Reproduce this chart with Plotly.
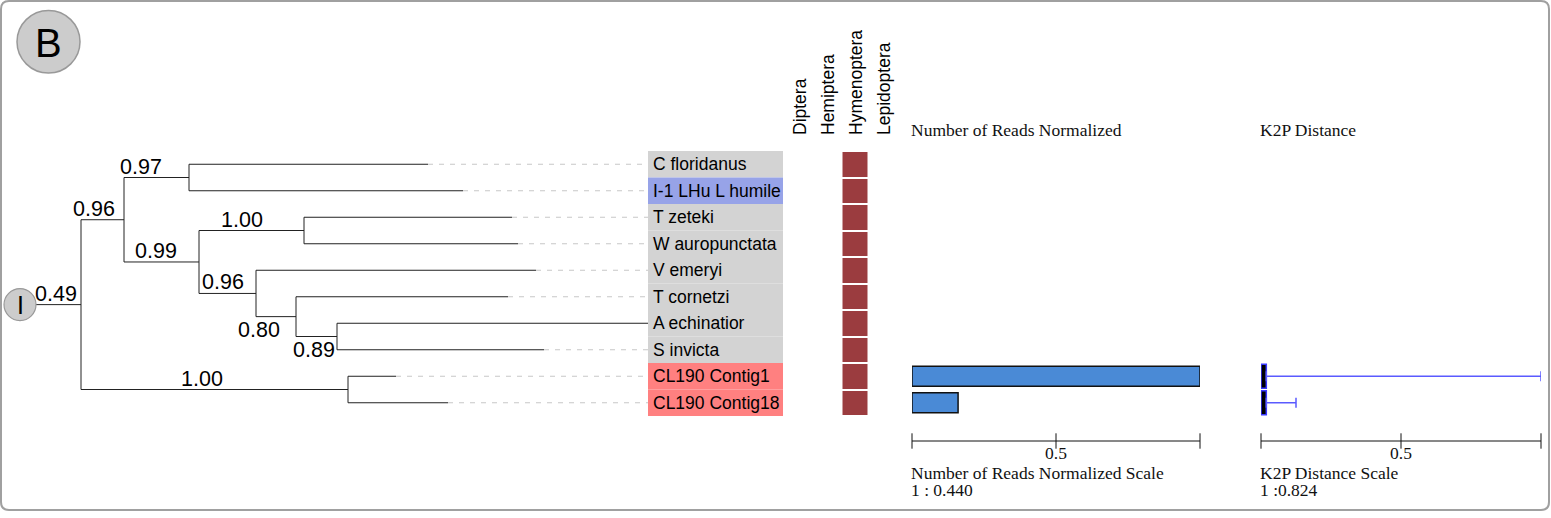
import plotly.graph_objects as go

W, H = 1551, 518

# ---------------- data ----------------
leaf_names = ["C floridanus", "I-1 LHu L humile", "T zeteki", "W auropunctata",
              "V emeryi", "T cornetzi", "A echinatior", "S invicta",
              "CL190 Contig1", "CL190 Contig18"]
leaf_parent = ["n3", "n3", "n5", "n5", "n6", "n7", "n8", "n8", "n9", "n9"]
leaf_length = [2.39, 2.74, 2.08, 2.14, 2.80, 2.12, 3.11, 2.07, 0.48, 1.00]
leaf_group = ["reference", "query", "reference", "reference", "reference",
              "reference", "reference", "reference", "contig", "contig"]

node_ids = ["n1", "n2", "n3", "n4", "n5", "n6", "n7", "n8", "n9"]
node_parent = ["root", "n1", "n2", "n2", "n4", "n4", "n6", "n7", "n1"]
node_length = [0.46, 0.43, 0.65, 0.75, 1.05, 0.57, 0.40, 0.41, 2.67]
node_support = [0.49, 0.96, 0.97, 0.99, 1.00, 0.96, 0.80, 0.89, 1.00]

orders = ["Diptera", "Hemiptera", "Hymenoptera", "Lepidoptera"]
leaf_order = ["Hymenoptera"] * 10

reads_normalized = [None, None, None, None, None, None, None, None, 1.00, 0.16]
k2p_box_upper = [None, None, None, None, None, None, None, None, 0.019, 0.019]
k2p_max = [None, None, None, None, None, None, None, None, 1.00, 0.125]

scale_ticks = [0, 0.5, 1]
scale_tick_labels = ["", "0.5", ""]

# ---------------- tree geometry ----------------
TREE_EXTENT = 6.13
depth = {"root": 0.0}
children = {}
for nid, par, ln in zip(node_ids, node_parent, node_length):
    depth[nid] = depth[par] + ln
    children.setdefault(par, []).append(nid)
ypos = {}
for i, (name, par, ln) in enumerate(zip(leaf_names, leaf_parent, leaf_length)):
    depth[name] = depth[par] + ln
    ypos[name] = i
    children.setdefault(par, []).append(name)


def place(n):
    if n in ypos:
        return ypos[n]
    ys = [place(c) for c in children[n]]
    ypos[n] = (min(ys) + max(ys)) / 2
    return ypos[n]


place("n1")
parent_of = dict(zip(node_ids, node_parent))
parent_of.update(dict(zip(leaf_names, leaf_parent)))

tx, ty = [], []
for n, p in parent_of.items():
    tx += [depth[p], depth[n], None]
    ty += [ypos[n], ypos[n], None]
for n in node_ids:
    cy = [ypos[c] for c in children[n]]
    tx += [depth[n], depth[n], None]
    ty += [min(cy), max(cy), None]

dx, dy = [], []
for name in leaf_names:
    if depth[name] < TREE_EXTENT - 1e-9:
        dx += [depth[name], TREE_EXTENT, None]
        dy += [ypos[name], ypos[name], None]

SANS = "Liberation Sans, Arial, sans-serif"
SERIF = "Liberation Serif, Times New Roman, serif"

fig = go.Figure()

fig.add_trace(go.Scatter(x=dx, y=dy, mode="lines", xaxis="x2", yaxis="y2",
                         line=dict(color="#c8c8c8", width=1.2, dash="5px,6px"),
                         hoverinfo="skip", showlegend=False))
fig.add_trace(go.Scatter(x=tx, y=ty, mode="lines", xaxis="x2", yaxis="y2",
                         line=dict(color="#222222", width=1),
                         hoverinfo="skip", showlegend=False))

# order presence matrix
z = [[1 if leaf_order[i] == o else None for o in orders] for i in range(len(leaf_names))]
fig.add_trace(go.Heatmap(z=z, x=list(range(len(orders))), y=list(range(len(leaf_names))),
                         xaxis="x3", yaxis="y2", xgap=3, ygap=2,
                         colorscale=[[0, "#9b3c3f"], [1, "#9b3c3f"]],
                         showscale=False, hoverinfo="skip"))

rows = list(range(len(leaf_names)))
fig.add_trace(go.Bar(x=reads_normalized, y=rows, orientation="h", xaxis="x4", yaxis="y2",
                     width=0.76, marker=dict(color="#4a8ad6", line=dict(color="#111111", width=1.5)),
                     cliponaxis=False, hoverinfo="skip", showlegend=False))

err_plus = [None if m is None else m - b for m, b in zip(k2p_max, k2p_box_upper)]
fig.add_trace(go.Bar(x=k2p_box_upper, y=rows, orientation="h", xaxis="x5", yaxis="y2",
                     width=0.9, marker=dict(color="#000000", line=dict(color="#3a3aff", width=1.5)),
                     error_x=dict(type="data", array=err_plus, arrayminus=[0] * len(rows),
                                  symmetric=False, color="#5a5aff", thickness=1.5, width=5),
                     cliponaxis=False, hoverinfo="skip", showlegend=False))

shapes = []
annotations = []

# scale bars
for ax in ["x4", "x5"]:
    fig.add_trace(go.Scatter(x=[scale_ticks[0], scale_ticks[-1]], y=[441, 441], mode="lines",
                             xaxis=ax, yaxis="y", line=dict(color="#111111", width=1),
                             hoverinfo="skip", showlegend=False, cliponaxis=False))
    fig.add_trace(go.Scatter(x=scale_ticks, y=[441] * len(scale_ticks), mode="markers",
                             xaxis=ax, yaxis="y",
                             marker=dict(symbol="line-ns", size=11,
                                         line=dict(color="#111111", width=1)),
                             hoverinfo="skip", showlegend=False, cliponaxis=False))
    for t, lab in zip(scale_ticks, scale_tick_labels):
        if lab:
            annotations.append(dict(text=lab, x=t, y=453, xref=ax, yref="y", showarrow=False,
                                    font=dict(family=SERIF, size=17.5, color="#111111")))

# frame
shapes.append(dict(type="path", xref="x", yref="y",
                   path="M 9,1 L 1541,1 Q 1549,1 1549,9 L 1549,502 Q 1549,510 1541,510 "
                        "L 9,510 Q 1,510 1,502 L 1,9 Q 1,1 9,1 Z",
                   line=dict(color="#a0a0a0", width=2), layer="below"))
# panel badge
shapes.append(dict(type="circle", xref="x", yref="y", x0=17, x1=80, y0=10.5, y1=73,
                   fillcolor="#cccccc", line=dict(color="#999999", width=1.5)))
annotations.append(dict(text="B", x=48.5, y=43, xref="x", yref="y", showarrow=False,
                        font=dict(family=SANS, size=40, color="#000000")))

# root badge, centred on the root branch
root_y = ypos["n1"]
shapes.append(dict(type="circle", xref="x", yref="y2", ysizemode="pixel", yanchor=root_y,
                   x0=4, x1=36, y0=-16, y1=16,
                   fillcolor="#cccccc", line=dict(color="#999999", width=1.2)))
annotations.append(dict(text="I", x=20, y=root_y, xref="x", yref="y2",
                        showarrow=False, font=dict(family=SANS, size=25, color="#000000")))

# label boxes
group_colors = {"reference": "#d3d3d3", "query": "#97a3e8", "contig": "#ff8080"}
for i, (name, grp) in enumerate(zip(leaf_names, leaf_group)):
    shapes.append(dict(type="rect", xref="x", yref="y2", x0=648, x1=783, y0=i - 0.5, y1=i + 0.5,
                       fillcolor=group_colors[grp], line=dict(width=0), layer="below"))
    annotations.append(dict(text=name, x=651, y=i, xref="x", yref="y2", xanchor="left",
                            showarrow=False, font=dict(family=SANS, size=17.5, color="#000000")))

# support values: centred over the branch, nudged off crowded joints
label_nudge = {"n1": -2, "n2": -9, "n3": -16, "n4": -6, "n5": -10,
               "n6": -5, "n7": -17, "n8": -3, "n9": -13}
below = {"n7", "n8"}
for nid, sup in zip(node_ids, node_support):
    mid = (depth[parent_of[nid]] + depth[nid]) / 2
    annotations.append(dict(text=f"{sup:.2f}", x=mid, y=ypos[nid], xref="x2", yref="y2",
                            xshift=label_nudge[nid], yshift=-13 if nid in below else 11,
                            showarrow=False,
                            font=dict(family=SANS, size=21.5, color="#000000")))

# order headers
for j, o in enumerate(orders):
    annotations.append(dict(text=o, x=j, y=137, xref="x3", yref="y", textangle=-90,
                            xanchor="center", yanchor="bottom", showarrow=False,
                            font=dict(family=SANS, size=17.5, color="#000000")))

# panel titles and scale captions
for ax, title, ratio in [("x4", "Number of Reads Normalized", "1 : 0.440"),
                         ("x5", "K2P Distance", "1 :0.824")]:
    for text, yy in [(title, 130), (title + " Scale", 473), (ratio, 490)]:
        annotations.append(dict(text=text, x=0, y=yy, xref=ax, yref="y", xanchor="left",
                                xshift=-3, showarrow=False,
                                font=dict(family=SERIF, size=17.5, color="#111111")))

hidden = dict(visible=False, showgrid=False, zeroline=False, fixedrange=True)
fig.update_layout(
    width=W, height=H, autosize=False,
    margin=dict(l=0, r=0, t=0, b=0, pad=0),
    paper_bgcolor="white", plot_bgcolor="rgba(0,0,0,0)",
    showlegend=False, barmode="overlay",
    xaxis=dict(domain=[0, 1], range=[0, W], anchor="y", **hidden),
    yaxis=dict(domain=[0, 1], range=[H, 0], anchor="x", **hidden),
    xaxis2=dict(domain=[35 / W, 648 / W], range=[0, TREE_EXTENT], anchor="y2", **hidden),
    yaxis2=dict(domain=[1 - 416 / H, 1 - 151 / H], range=[9.5, -0.5], anchor="x2", **hidden),
    xaxis3=dict(domain=[785.5 / W, 897.5 / W], range=[-0.5, 3.5], anchor="y2", **hidden),
    xaxis4=dict(domain=[912 / W, 1200 / W], range=[0, 1], anchor="y2", **hidden),
    xaxis5=dict(domain=[1261 / W, 1541 / W], range=[0, 1], anchor="y2", **hidden),
    shapes=shapes, annotations=annotations,
)

fig.write_html("out.html")
